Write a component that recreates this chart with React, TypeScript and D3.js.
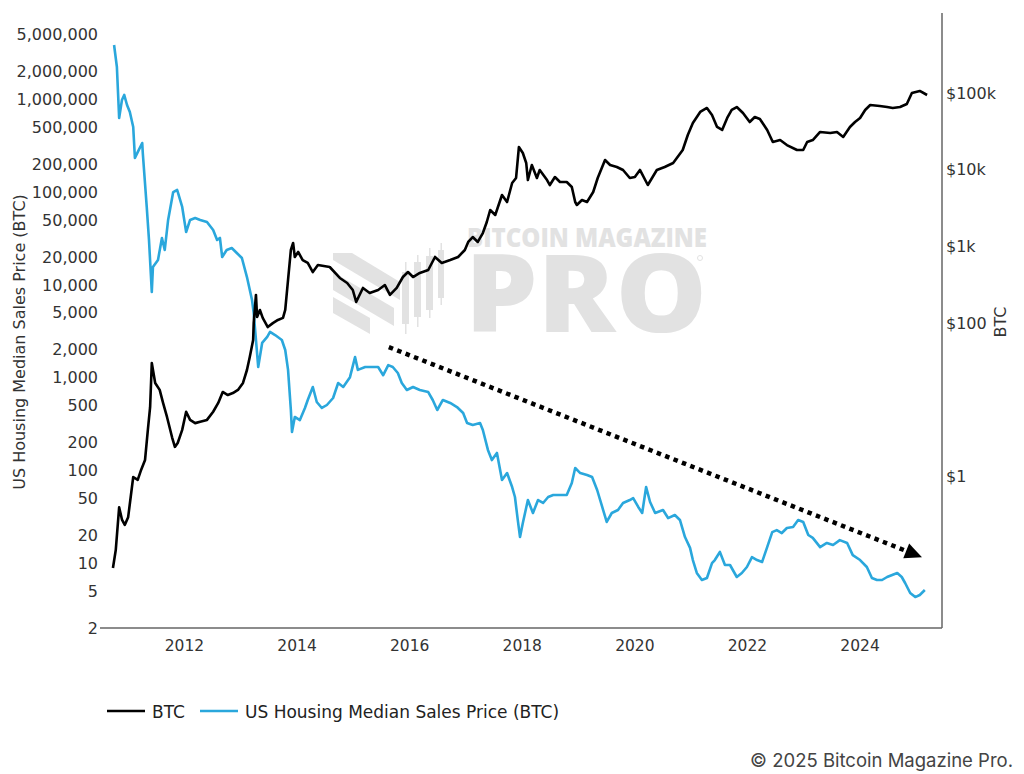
import React from 'react';
import * as d3 from 'd3';

// ---- Data (decimal year, value) ----
const btcSeries: [number, number][] = [
  [2010.73, 0.063], [2010.78, 0.108], [2010.84, 0.39], [2010.89, 0.27], [2010.94, 0.23], [2011.0, 0.29],
  [2011.09, 0.97], [2011.17, 0.89], [2011.23, 1.2], [2011.3, 1.62], [2011.35, 4.0], [2011.39, 7.9],
  [2011.42, 29.9], [2011.48, 16.4], [2011.56, 13.3], [2011.62, 9.0], [2011.69, 5.9], [2011.78, 3.2],
  [2011.83, 2.4], [2011.88, 2.7], [2011.96, 4.0], [2012.03, 6.9], [2012.1, 5.4], [2012.19, 4.9],
  [2012.28, 5.1], [2012.4, 5.4], [2012.51, 6.9], [2012.6, 9.0], [2012.68, 12.5], [2012.77, 11.4],
  [2012.86, 12.1], [2012.95, 13.3], [2013.04, 16.4], [2013.11, 24.2], [2013.16, 35.8], [2013.22, 59.6],
  [2013.23, 99], [2013.27, 231], [2013.29, 119], [2013.34, 147], [2013.39, 116], [2013.48, 88],
  [2013.57, 99], [2013.66, 109], [2013.75, 116], [2013.79, 147], [2013.84, 362], [2013.89, 892],
  [2013.93, 1101], [2013.96, 723], [2014.02, 840], [2014.1, 660], [2014.19, 604], [2014.28, 460],
  [2014.37, 568], [2014.58, 535], [2014.76, 385], [2014.89, 331], [2014.99, 268], [2015.05, 187],
  [2015.17, 285], [2015.29, 245], [2015.44, 268], [2015.56, 311], [2015.65, 231], [2015.77, 285],
  [2015.88, 396], [2015.97, 460], [2016.06, 396], [2016.18, 447], [2016.33, 489], [2016.45, 723],
  [2016.57, 604], [2016.72, 660], [2016.86, 723], [2016.98, 892], [2017.04, 1135], [2017.12, 1318],
  [2017.21, 1135], [2017.3, 1486], [2017.37, 2069], [2017.43, 2970], [2017.52, 2555], [2017.64, 4660],
  [2017.73, 3774], [2017.82, 6685], [2017.89, 7770], [2017.94, 19700], [2018.01, 16470], [2018.07, 12200],
  [2018.1, 7310], [2018.17, 11480], [2018.26, 7770], [2018.31, 9886], [2018.44, 7310], [2018.49, 6290],
  [2018.58, 8000], [2018.67, 6890], [2018.79, 6890], [2018.88, 5930], [2018.94, 3774], [2018.97, 3450],
  [2019.06, 4010], [2019.15, 3774], [2019.26, 5100], [2019.34, 7770], [2019.47, 13340], [2019.56, 11480],
  [2019.68, 10820], [2019.79, 9886], [2019.91, 7770], [2020.0, 8000], [2020.09, 9886], [2020.23, 6290],
  [2020.39, 9886], [2020.53, 10820], [2020.68, 12200], [2020.85, 18030], [2020.94, 28300], [2021.03, 40600],
  [2021.16, 56500], [2021.28, 63700], [2021.37, 51600], [2021.46, 36000], [2021.55, 32900], [2021.64, 47200],
  [2021.72, 60000], [2021.81, 65600], [2021.92, 54800], [2022.04, 41800], [2022.13, 48600], [2022.22, 45800],
  [2022.35, 32900], [2022.45, 22900], [2022.58, 24300], [2022.7, 20900], [2022.88, 18030], [2022.99, 18030],
  [2023.06, 22900], [2023.16, 24300], [2023.29, 30970], [2023.47, 30060], [2023.59, 30970], [2023.7, 26700],
  [2023.82, 36000], [2023.91, 41800], [2024.0, 47200], [2024.09, 60000], [2024.18, 69600], [2024.35, 67600],
  [2024.48, 65600], [2024.58, 63700], [2024.71, 65600], [2024.83, 71800], [2024.92, 100000], [2025.06, 106300],
  [2025.19, 94100],
];

const housingSeries: [number, number][] = [
  [2010.75, 3830000], [2010.8, 2220000], [2010.84, 627000], [2010.89, 979000], [2010.93, 1110000],
  [2010.98, 865000], [2011.03, 727000], [2011.09, 501000], [2011.12, 232000], [2011.17, 269000],
  [2011.25, 337000], [2011.26, 263000], [2011.33, 68900], [2011.37, 30400], [2011.42, 8360],
  [2011.44, 15500], [2011.53, 18500], [2011.6, 31900], [2011.65, 23700], [2011.71, 49900],
  [2011.8, 99800], [2011.87, 105000], [2011.96, 68900], [2012.03, 37000], [2012.1, 49900],
  [2012.19, 52400], [2012.28, 49900], [2012.4, 47400], [2012.51, 38900], [2012.58, 30400],
  [2012.63, 31900], [2012.67, 19900], [2012.75, 23700], [2012.84, 24900], [2012.93, 22000],
  [2013.02, 19400], [2013.11, 12100], [2013.2, 6840], [2013.23, 4950], [2013.27, 2540],
  [2013.31, 1300], [2013.38, 2360], [2013.47, 2740], [2013.52, 3100], [2013.61, 2870],
  [2013.73, 2540], [2013.79, 1980], [2013.84, 1210], [2013.89, 447], [2013.91, 259],
  [2013.96, 376], [2014.05, 348], [2014.14, 470], [2014.19, 573], [2014.28, 791],
  [2014.35, 545], [2014.44, 470], [2014.53, 506], [2014.64, 602], [2014.73, 873],
  [2014.82, 791], [2014.94, 1010], [2015.03, 1660], [2015.08, 1210], [2015.21, 1300],
  [2015.33, 1300], [2015.44, 1300], [2015.53, 1060], [2015.62, 1360], [2015.7, 1300],
  [2015.79, 1120], [2015.86, 873], [2015.95, 734], [2016.06, 791], [2016.18, 734],
  [2016.33, 698], [2016.41, 573], [2016.49, 447], [2016.59, 573], [2016.72, 532],
  [2016.84, 481], [2016.95, 415], [2017.02, 324], [2017.12, 308], [2017.25, 324],
  [2017.3, 272], [2017.39, 166], [2017.46, 129], [2017.55, 154], [2017.64, 78.7],
  [2017.73, 93.5], [2017.82, 66.1], [2017.87, 51.6], [2017.92, 29.2], [2017.96, 19.1],
  [2018.01, 27.1], [2018.1, 47.9], [2018.19, 34.7], [2018.28, 47.9], [2018.37, 44.5],
  [2018.46, 51.6], [2018.55, 54.2], [2018.67, 54.2], [2018.79, 54.2], [2018.88, 73.1],
  [2018.94, 106], [2019.03, 93.5], [2019.15, 89.1], [2019.24, 84.8], [2019.33, 61.4],
  [2019.42, 40.3], [2019.5, 27.8], [2019.59, 34.7], [2019.7, 37.4], [2019.79, 44.5],
  [2019.91, 47.9], [2019.97, 50.3], [2020.06, 40.3], [2020.13, 34.7], [2020.2, 66.1],
  [2020.27, 45.6], [2020.36, 34.7], [2020.5, 37.4], [2020.59, 30.6], [2020.71, 33.0],
  [2020.8, 29.2], [2020.89, 19.1], [2020.98, 14.6], [2021.03, 10.8], [2021.1, 7.83],
  [2021.19, 6.58], [2021.28, 6.92], [2021.37, 10.0], [2021.42, 10.8], [2021.51, 13.2],
  [2021.6, 9.55], [2021.69, 9.55], [2021.81, 7.09], [2021.9, 7.83], [2021.99, 9.08],
  [2022.08, 11.6], [2022.17, 10.8], [2022.26, 10.3], [2022.35, 14.9], [2022.44, 21.6],
  [2022.52, 22.7], [2022.61, 21.1], [2022.7, 23.9], [2022.81, 24.5], [2022.9, 29.2],
  [2022.99, 27.8], [2023.08, 20.1], [2023.16, 18.7], [2023.29, 14.9], [2023.41, 16.5],
  [2023.52, 15.7], [2023.64, 17.7], [2023.77, 16.5], [2023.87, 12.2], [2024.0, 10.8],
  [2024.12, 9.08], [2024.21, 6.92], [2024.3, 6.58], [2024.39, 6.58], [2024.48, 7.09],
  [2024.57, 7.45], [2024.66, 7.83], [2024.74, 7.09], [2024.8, 6.11], [2024.89, 4.77],
  [2024.98, 4.31], [2025.06, 4.54], [2025.15, 5.13],
];

const leftTicks = [2, 5, 10, 20, 50, 100, 200, 500, 1000, 2000, 5000, 10000, 20000, 50000, 100000, 200000, 500000, 1000000, 2000000, 5000000];
const rightTicks = [1, 100, 1000, 10000, 100000];
const rightTickLabels = ['$1', '$100', '$1k', '$10k', '$100k'];
const yearTicks = [2012, 2014, 2016, 2018, 2020, 2022, 2024];
// trend arrow in (year, housing-in-BTC) coordinates
const trendArrow: [number, number][] = [[2015.63, 2130], [2025.1, 11.6]];

const seriesNames = ['BTC', 'US Housing Median Sales Price (BTC)'];
const seriesColors = ['#000000', '#2aa7dc'];

const W = 1024;
const H = 774;
const plot = { left: 100, right: 942, top: 13, bottom: 628 };

const tickFont = '"DejaVu Sans", Verdana, sans-serif';

export default function App() {
  const x = d3.scaleLinear().domain([2010.5, 2025.455]).range([plot.left, plot.right]);
  const yLeft = d3.scaleLog().domain([2, 8.48e6]).range([plot.bottom, plot.top]);
  const yRight = d3.scaleLog().domain([0.01037, 1.107e6]).range([plot.bottom, plot.top]);

  const btcLine = d3.line<[number, number]>().x((d) => x(d[0])).y((d) => yRight(d[1]));
  const housingLine = d3.line<[number, number]>().x((d) => x(d[0])).y((d) => yLeft(d[1]));

  const ax0 = x(trendArrow[0][0]);
  const ay0 = yLeft(trendArrow[0][1]);
  const ax1 = x(trendArrow[1][0]);
  const ay1 = yLeft(trendArrow[1][1]);
  const ang = Math.atan2(ay1 - ay0, ax1 - ax0);
  const headLen = 17;
  const headW = 8;
  const bx = ax1 - headLen * Math.cos(ang);
  const by = ay1 - headLen * Math.sin(ang);
  const px = -Math.sin(ang);
  const py = Math.cos(ang);
  const head = `M${ax1},${ay1} L${bx + px * headW},${by + py * headW} L${bx - px * headW},${by - py * headW} Z`;

  const wm = '#e2e2e2';

  return (
    <svg width={W} height={H} style={{ position: 'absolute', left: 0, top: 0, background: '#fff' }}>
      <rect x={0} y={0} width={W} height={H} fill="#fff" />
      {/* watermark */}
      <g fill={wm}>
        <path d="M333,253 L352,253 L400,282 L400,300 L333,260 Z" />
        <path d="M333,272 L333,290 L394,326 L394,308 Z" />
        <path d="M333,297 L333,313 L370,334 L370,318 Z" />
        <rect x={402} y={272} width={7} height={52} />
        <rect x={414} y={262} width={7} height={55} />
        <rect x={426} y={256} width={7} height={54} />
        <rect x={438} y={250} width={6} height={48} />
        <rect x={405} y={262} width={1.5} height={72} />
        <rect x={417} y={255} width={1.5} height={72} />
        <rect x={429} y={248} width={1.5} height={70} />
        <rect x={440.5} y={243} width={1.5} height={62} />
        <text x={467} y={247} fontFamily='"Open Sans", sans-serif' fontWeight={800} fontSize={26} textLength={240} lengthAdjust="spacingAndGlyphs">BITCOIN MAGAZINE</text>
        <text x={465} y={332} fontFamily='"Open Sans", sans-serif' fontWeight={800} fontSize={108} textLength={242} lengthAdjust="spacingAndGlyphs">PRO</text>
        <circle cx={700} cy={258} r={2.5} fill="none" stroke={wm} strokeWidth={1} />
      </g>

      {/* axes lines */}
      <line x1={plot.left} x2={plot.right} y1={plot.bottom} y2={plot.bottom} stroke="#666" strokeWidth={1.5} />
      <line x1={plot.right} x2={plot.right} y1={plot.top} y2={plot.bottom} stroke="#666" strokeWidth={1.5} />

      {/* left ticks */}
      <g fontFamily={tickFont} fontSize={16} fill="#333" textAnchor="end">
        {leftTicks.map((t) => (
          <text key={t} x={plot.left - 2} y={yLeft(t)} dy="0.36em">{d3.format(',')(t)}</text>
        ))}
      </g>
      {/* right ticks */}
      <g fontFamily={tickFont} fontSize={16} fill="#333" textAnchor="start">
        {rightTicks.map((t, i) => (
          <text key={t} x={plot.right + 4} y={yRight(t)} dy="0.36em">{rightTickLabels[i]}</text>
        ))}
      </g>
      {/* x ticks */}
      <g fontFamily={tickFont} fontSize={15.5} fill="#333" textAnchor="middle">
        {yearTicks.map((t) => (
          <text key={t} x={x(t)} y={651}>{d3.format('d')(t)}</text>
        ))}
      </g>

      {/* axis titles */}
      <text transform="translate(25,342) rotate(-90)" textAnchor="middle" fontFamily={tickFont} fontSize={16} fill="#333">US Housing Median Sales Price (BTC)</text>
      <text transform="translate(1006,322) rotate(-90)" textAnchor="middle" fontFamily={tickFont} fontSize={16} fill="#333">BTC</text>

      {/* series */}
      <path d={housingLine(housingSeries) || ''} fill="none" stroke={seriesColors[1]} strokeWidth={2.6} strokeLinejoin="round" />
      <path d={btcLine(btcSeries) || ''} fill="none" stroke={seriesColors[0]} strokeWidth={2.6} strokeLinejoin="round" />

      {/* trend arrow */}
      <line x1={ax0} y1={ay0} x2={bx} y2={by} stroke="#000" strokeWidth={4.5} strokeDasharray="4.5,4.5" />
      <path d={head} fill="#000" />

      {/* legend */}
      <g fontFamily={tickFont} fontSize={17} fill="#222">
        <line x1={107} x2={145} y1={711} y2={711} stroke={seriesColors[0]} strokeWidth={2.6} />
        <text x={152} y={718}>{seriesNames[0]}</text>
        <line x1={200} x2={238} y1={711} y2={711} stroke={seriesColors[1]} strokeWidth={2.6} />
        <text x={245} y={718}>{seriesNames[1]}</text>
      </g>

      {/* copyright */}
      <text x={1013} y={767} textAnchor="end" fontFamily="Inter, sans-serif" fontSize={18.5} fill="#444">© 2025 Bitcoin Magazine Pro.</text>
    </svg>
  );
}
